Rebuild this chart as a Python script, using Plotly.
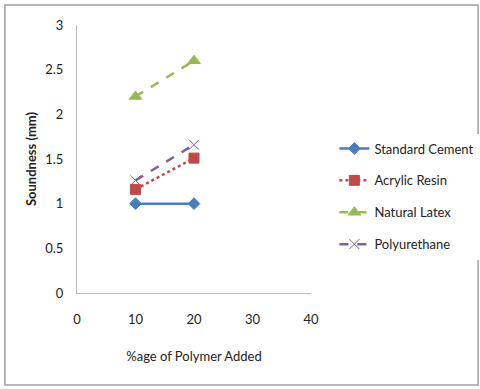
import plotly.graph_objects as go

x_vals = [10, 20]
standard_cement = [1.0, 1.0]
acrylic_resin = [1.16, 1.51]
natural_latex = [2.2, 2.6]
polyurethane = [1.26, 1.66]

series = [
    ("Standard Cement", standard_cement, "#4a7ebb", "solid", "diamond", 9),
    ("Acrylic Resin", acrylic_resin, "#be4b48", "dot", "square", 10),
    ("Natural Latex", natural_latex, "#98b954", "dash", "triangle-up", 11),
    ("Polyurethane", polyurethane, "#7d60a0", "dash", "x-thin", 10),
]

fig = go.Figure()
for i, (name, ys, color, dash, sym, size) in enumerate(series):
    fig.add_trace(go.Scatter(
        x=x_vals, y=ys, name=name, mode="lines+markers", legendgroup=f"g{i}",
        line=dict(color=color, width=2.5, dash=dash),
        marker=dict(symbol=sym, size=size, color=color,
                    line=dict(color=color, width=1)),
    ))

font = "Lato, Carlito, DejaVu Sans Condensed, sans-serif"
fig.update_layout(
    width=480, height=389,
    margin=dict(l=77, r=169, t=25, b=96, autoexpand=False),
    paper_bgcolor="white", plot_bgcolor="white",
    font=dict(family=font, size=13, color="#222"),
    showlegend=True,
    legend=dict(x=1.10, y=0.36, xanchor="left", yanchor="middle",
                font=dict(size=13, color="#222"), tracegroupgap=12,
                itemwidth=30),
    xaxis=dict(range=[0, 40], tickvals=[0, 10, 20, 30, 40],
               showgrid=False, zeroline=False, showline=True,
               linecolor="#bbbbbb", linewidth=1, ticks="",
               ticklabelstandoff=14,
               title=dict(text="%age of Polymer Added", standoff=26,
                          font=dict(size=13, color="#222"))),
    yaxis=dict(range=[0, 3], tickvals=[0, 0.5, 1, 1.5, 2, 2.5, 3],
               ticktext=["0", "0.5", "1", "1.5", "2", "2.5", "3"],
               showgrid=False, zeroline=False, showline=True,
               linecolor="#bbbbbb", linewidth=1, ticks="",
               ticklabelstandoff=10,
               title=dict(text="<b>Soundness (mm)</b>", standoff=5,
                          font=dict(size=13, color="#222"))),
    shapes=[dict(type="rect", xref="paper", yref="paper",
                 x0=-0.308, x1=1.714, y0=-0.343, y1=1.075,
                 line=dict(color="#a0a0a0", width=1.5))],
)

fig.write_html("out.html")
